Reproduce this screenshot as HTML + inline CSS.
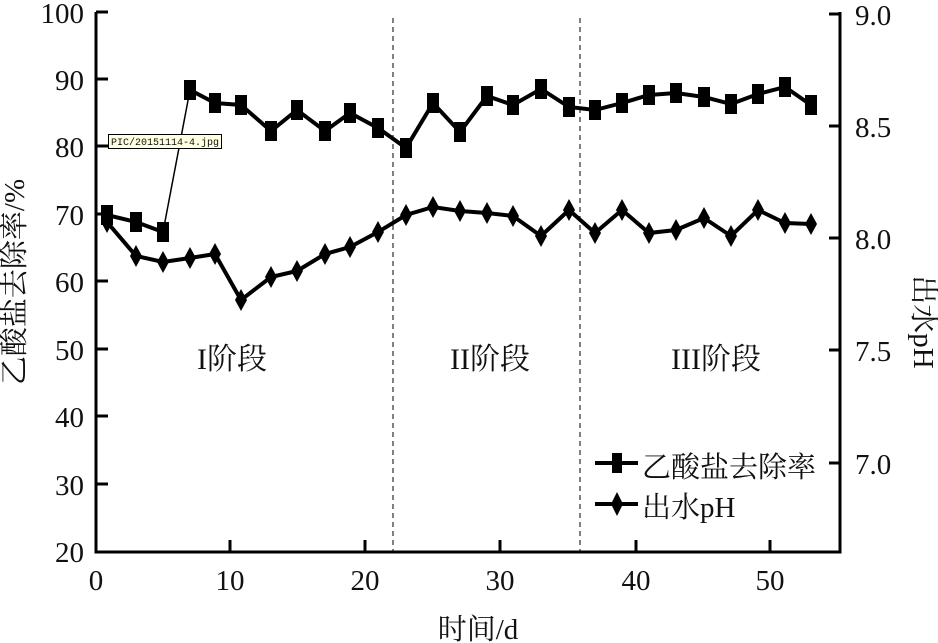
<!DOCTYPE html>
<html><head><meta charset="utf-8"><style>
html,body{margin:0;padding:0;background:#fff;}
svg{display:block;}
text{font-family:"Liberation Serif","Noto Serif CJK SC",serif;fill:#111;}
</style></head><body>
<svg width="938" height="643" viewBox="0 0 938 643">
<g stroke="#000" stroke-width="3" fill="none">
<polyline points="96,12 96,552 840,552 840,12"/>
</g>
<g stroke="#000" stroke-width="3">
<line x1="96" y1="12" x2="108" y2="12"/><line x1="96" y1="79" x2="108" y2="79"/>
<line x1="96" y1="146" x2="108" y2="146"/><line x1="96" y1="214" x2="108" y2="214"/>
<line x1="96" y1="281" x2="108" y2="281"/><line x1="96" y1="349" x2="108" y2="349"/>
<line x1="96" y1="416" x2="108" y2="416"/><line x1="96" y1="484" x2="108" y2="484"/>
<line x1="829" y1="14" x2="840" y2="14"/><line x1="829" y1="126" x2="840" y2="126"/>
<line x1="829" y1="238" x2="840" y2="238"/><line x1="829" y1="350" x2="840" y2="350"/>
<line x1="829" y1="463" x2="840" y2="463"/>
<line x1="230" y1="540" x2="230" y2="552"/><line x1="365" y1="540" x2="365" y2="552"/>
<line x1="500" y1="540" x2="500" y2="552"/><line x1="636" y1="540" x2="636" y2="552"/>
<line x1="770" y1="540" x2="770" y2="552"/>
</g>
<g stroke="#000" stroke-width="1" stroke-dasharray="5,4">
<line x1="393" y1="18" x2="393" y2="552"/><line x1="580" y1="18" x2="580" y2="552"/>
</g>
<g font-size="29" text-anchor="end">
<text x="84" y="23">100</text><text x="84" y="90">90</text><text x="84" y="157">80</text>
<text x="84" y="225">70</text><text x="84" y="292">60</text><text x="84" y="360">50</text>
<text x="84" y="427">40</text><text x="84" y="495">30</text><text x="84" y="562">20</text>
</g>
<g font-size="29">
<text x="855" y="25">9.0</text><text x="855" y="137">8.5</text><text x="855" y="249">8.0</text>
<text x="855" y="361">7.5</text><text x="855" y="474">7.0</text>
</g>
<g font-size="29" text-anchor="middle">
<text x="96" y="590">0</text><text x="230" y="590">10</text><text x="365" y="590">20</text>
<text x="500" y="590">30</text><text x="636" y="590">40</text><text x="770" y="590">50</text>
<text x="478" y="639">时间/d</text>
</g>
<g font-size="30" text-anchor="middle">
<text x="232" y="369">I阶段</text><text x="490" y="369">II阶段</text><text x="716" y="369">III阶段</text>
</g>
<text font-size="29" text-anchor="middle" transform="translate(24,282) rotate(-90)">乙酸盐去除率/%</text>
<text font-size="29" text-anchor="middle" transform="translate(914,322) rotate(90)">出水pH</text>
<polyline fill="none" stroke="#000" stroke-width="4" points="107,215 136,222 163,232"/>
<polyline fill="none" stroke="#000" stroke-width="1.5" points="163,232 190,90"/>
<polyline fill="none" stroke="#000" stroke-width="4" points="190,90 215,103 241,105 271,131 297,110 325,131 350,113 378,128 406,148 433,103 460,132 487,96 513,105 541,89 569,107 595,110 622,103 649,95 676,93 704,97 731,104 758,94 785,87 811,105"/>
<g fill="#000">
<rect x="101" y="205" width="12" height="20"/><rect x="130" y="212" width="12" height="20"/><rect x="157" y="222" width="12" height="20"/>
<rect x="184" y="80" width="12" height="20"/><rect x="209" y="93" width="12" height="20"/><rect x="235" y="95" width="12" height="20"/>
<rect x="265" y="121" width="12" height="20"/><rect x="291" y="100" width="12" height="20"/><rect x="319" y="121" width="12" height="20"/>
<rect x="344" y="103" width="12" height="20"/><rect x="372" y="118" width="12" height="20"/><rect x="400" y="138" width="12" height="20"/>
<rect x="427" y="93" width="12" height="20"/><rect x="454" y="122" width="12" height="20"/><rect x="481" y="86" width="12" height="20"/>
<rect x="507" y="95" width="12" height="20"/><rect x="535" y="79" width="12" height="20"/><rect x="563" y="97" width="12" height="20"/>
<rect x="589" y="100" width="12" height="20"/><rect x="616" y="93" width="12" height="20"/><rect x="643" y="85" width="12" height="20"/>
<rect x="670" y="83" width="12" height="20"/><rect x="698" y="87" width="12" height="20"/><rect x="725" y="94" width="12" height="20"/>
<rect x="752" y="84" width="12" height="20"/><rect x="779" y="77" width="12" height="20"/><rect x="805" y="95" width="12" height="20"/>
</g>
<polyline fill="none" stroke="#000" stroke-width="4" points="107,222 136,256 163,262 190,258 215,254 241,300 271,277 297,271 325,254 350,247 378,232 406,215 433,207 460,211 487,213 513,216 541,236 569,210 595,233 622,210 649,233 676,230 704,218 731,236 758,210 785,223 811,224"/>
<g fill="#000">
<path d="M0,-11 L6,0 L0,11 L-6,0Z" transform="translate(107,222)"/>
<path d="M0,-11 L6,0 L0,11 L-6,0Z" transform="translate(136,256)"/>
<path d="M0,-11 L6,0 L0,11 L-6,0Z" transform="translate(163,262)"/>
<path d="M0,-11 L6,0 L0,11 L-6,0Z" transform="translate(190,258)"/>
<path d="M0,-11 L6,0 L0,11 L-6,0Z" transform="translate(215,254)"/>
<path d="M0,-11 L6,0 L0,11 L-6,0Z" transform="translate(241,300)"/>
<path d="M0,-11 L6,0 L0,11 L-6,0Z" transform="translate(271,277)"/>
<path d="M0,-11 L6,0 L0,11 L-6,0Z" transform="translate(297,271)"/>
<path d="M0,-11 L6,0 L0,11 L-6,0Z" transform="translate(325,254)"/>
<path d="M0,-11 L6,0 L0,11 L-6,0Z" transform="translate(350,247)"/>
<path d="M0,-11 L6,0 L0,11 L-6,0Z" transform="translate(378,232)"/>
<path d="M0,-11 L6,0 L0,11 L-6,0Z" transform="translate(406,215)"/>
<path d="M0,-11 L6,0 L0,11 L-6,0Z" transform="translate(433,207)"/>
<path d="M0,-11 L6,0 L0,11 L-6,0Z" transform="translate(460,211)"/>
<path d="M0,-11 L6,0 L0,11 L-6,0Z" transform="translate(487,213)"/>
<path d="M0,-11 L6,0 L0,11 L-6,0Z" transform="translate(513,216)"/>
<path d="M0,-11 L6,0 L0,11 L-6,0Z" transform="translate(541,236)"/>
<path d="M0,-11 L6,0 L0,11 L-6,0Z" transform="translate(569,210)"/>
<path d="M0,-11 L6,0 L0,11 L-6,0Z" transform="translate(595,233)"/>
<path d="M0,-11 L6,0 L0,11 L-6,0Z" transform="translate(622,210)"/>
<path d="M0,-11 L6,0 L0,11 L-6,0Z" transform="translate(649,233)"/>
<path d="M0,-11 L6,0 L0,11 L-6,0Z" transform="translate(676,230)"/>
<path d="M0,-11 L6,0 L0,11 L-6,0Z" transform="translate(704,218)"/>
<path d="M0,-11 L6,0 L0,11 L-6,0Z" transform="translate(731,236)"/>
<path d="M0,-11 L6,0 L0,11 L-6,0Z" transform="translate(758,210)"/>
<path d="M0,-11 L6,0 L0,11 L-6,0Z" transform="translate(785,223)"/>
<path d="M0,-11 L6,0 L0,11 L-6,0Z" transform="translate(811,224)"/>
</g>
<rect x="108.5" y="134.5" width="113" height="14" fill="#ffffe1" stroke="#000" stroke-width="1"/>
<text x="111" y="145" font-size="10" style="font-family:'Liberation Mono',monospace">PIC/20151114-4.jpg</text>
<line x1="595" y1="463" x2="638" y2="463" stroke="#000" stroke-width="4"/>
<rect x="612" y="453" width="10" height="20" fill="#000"/>
<text x="642" y="477" font-size="29">乙酸盐去除率</text>
<line x1="595" y1="504" x2="638" y2="504" stroke="#000" stroke-width="4"/>
<path d="M617,492 L623,504 L617,516 L611,504Z" fill="#000"/>
<text x="642" y="517" font-size="29">出水pH</text>
</svg>
</body></html>
